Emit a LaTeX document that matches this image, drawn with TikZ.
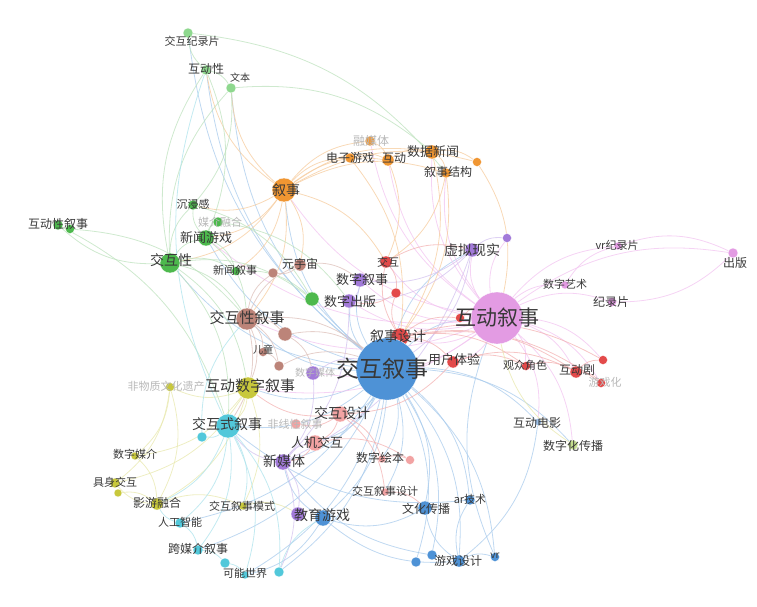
\documentclass[tikz,border=0pt]{standalone}
\usepackage{fontspec}
\setmainfont{Noto Sans CJK SC}
\usetikzlibrary{backgrounds,calc}

\definecolor{cblue}{HTML}{4E92D6}
\definecolor{eblue}{HTML}{A9CBEC}
\definecolor{cpink}{HTML}{E39BE3}
\definecolor{epink}{HTML}{F2C4F0}
\definecolor{corange}{HTML}{F09632}
\definecolor{eorange}{HTML}{F6CC9E}
\definecolor{cgreen}{HTML}{4DB94D}
\definecolor{clgreen}{HTML}{8ED88E}
\definecolor{egreen}{HTML}{BEE2BE}
\definecolor{cbrown}{HTML}{BC8479}
\definecolor{ebrown}{HTML}{DDC0B9}
\definecolor{cpurple}{HTML}{A27AD9}
\definecolor{epurple}{HTML}{D3C2EF}
\definecolor{cred}{HTML}{E34A4A}
\definecolor{ered}{HTML}{F3B2B2}
\definecolor{csalmon}{HTML}{F2A3A3}
\definecolor{cyellow}{HTML}{C8C83C}
\definecolor{eyellow}{HTML}{E8E8AE}
\definecolor{ccyan}{HTML}{52C8DA}
\definecolor{ecyan}{HTML}{AEE3EC}
\definecolor{cblight}{HTML}{9CC0E8}
\definecolor{cygreen}{HTML}{C4DE8E}

\tikzset{
  dot/.style={circle, inner sep=0pt, draw=white, line width=0.3pt},
  lbl/.style={font=\fontsize{#1}{#1}\selectfont, text=black!78, inner sep=0pt},
  faint/.style={font=\fontsize{#1}{#1}\selectfont, text=black!28, inner sep=0pt},
  edge/.style={draw=#1, line width=0.8pt, opacity=0.75},
}

\begin{document}
\begin{tikzpicture}[x=1pt, y=-1pt]
  \useasboundingbox (0,0) rectangle (757,607);

  % keyword nodes
  \foreach \n/\x/\y/\d/\c in {
      jhjlp/188/33/10/clgreen, hdx/206/70/10/clgreen, wb/231/88/10/clgreen,
      rmt/370/141/10/corange, dzyx/350/158/10/corange, hd/388/160/12/corange,
      sjxw/432/152/14/corange, o477/477/162/9/corange, xsjg/446/173/10/corange,
      xs/284/190/24/corange,
      cjg/193/205/10/cgreen, gmf/218/222/10/cgreen, xwyx/206/238/16/cgreen,
      hdxxs/58/225/10/cgreen, hdxxs2/70/229/9/cgreen, jhx/170/263/20/cgreen,
      xwxs/236/271/9/cgreen, g312/312/299/14/cgreen,
      yyz/300/265/12/cbrown, b273/273/273/10/cbrown, jhxxs/247/319/22/cbrown,
      b285/285/334/14/cbrown, et/263/352/9/cbrown, b278/279/366/10/cbrown,
      szxs/360/280/14/cpurple, szcb/349/301/14/cpurple, szmt/313/373/14/cpurple,
      xnxs/472/250/14/cpurple, p507/507/238/9/cpurple,
      jh/386/262/12/cred, r396/396/293/10/cred, xssj/400/337/18/cred,
      yhty/453/362/12/cred, gzjs/526/366/9/cred, hdj/576/372/12/cred,
      r603/603/360/9/cred, yxh/601/383/9/cred, r460/460/318/9/cred,
      vrjlp/618/246/8/cpink, cb/733/253/10/cpink, szys/565/285/8/cpink,
      jlp/612/302/9/cpink,
      fwz/170/387/9/cyellow, hdszxs/248/388/22/cyellow, szmj/135/456/8/cyellow,
      jsjh/115/483/10/cyellow, jsjh2/118/493/8/cyellow, yyrh/157/504/12/cyellow,
      jhxsms/243/506/8/cyellow,
      jhsxs/228/426/24/ccyan, c202/202/437/10/ccyan, rgzn/180/523/10/ccyan,
      kmjxs/198/550/10/ccyan, knsj2/225/563/10/ccyan, knsj/245/575/8/ccyan,
      knsj3/279/572/10/ccyan,
      fxxxs/296/424/10/csalmon, jhsj/340/414/16/csalmon, rjjh/315/443/16/csalmon,
      szhb/382/459/8/csalmon, szhb2/410/460/9/csalmon, jhxssj/385/492/8/csalmon,
      xmt/283/462/16/cpurple, jyyx/298/514/14/cpurple,
      jyyxb/323/518/16/cblue, arjs/470/500/10/cblue, whcb/425/508/14/cblue,
      yxsj/459/561/12/cblue, yxsj2/432/555/10/cblue, yxsj3/416/562/10/cblue,
      vr/495/557/9/cblue, hddy/538/422/7/cblight, szhcb/573/445/10/cygreen,
      hdxsb/497/318/52/cpink, jhxs/387/369/62/cblue}
    \node[dot, minimum size=\d pt, fill=\c] (\n) at (\x,\y) {};

  \begin{scope}[on background layer]
    % 交互叙事
    \foreach \a/\b in {jhxs/xs, jhxs/jhx, jhxs/hdxsb, jhxs/jhxxs, jhxs/xwyx,
        jhxs/hdx, jhxs/jhjlp, jhxs/wb, jhxs/hdszxs, jhxs/jhsxs, jhxs/kmjxs,
        jhxs/knsj, jhxs/rgzn, jhxs/yxsj, jhxs/whcb, jhxs/arjs, jhxs/vr,
        jhxs/jyyxb, jhxs/xmt, jhxs/hddy, jhxs/yxsj2, jhxs/yxsj3, jhxs/szhcb,
        jhxs/xnxs, jhxs/szxs, jhxs/szcb, jhxs/jhsj, jhxs/rjjh, jhxs/szhb,
        jhxs/jhxssj, jhxs/knsj3, jhxs/xssj, yxsj/whcb, yxsj/jyyxb, yxsj/arjs,
        yxsj/vr, whcb/jyyxb, jyyxb/xmt, vr/hdxsb, hddy/yxsj, yxsj2/xmt,
        arjs/jhsxs, jyyxb/knsj}
      \draw[edge=eblue] (\a) to[bend left=22] (\b);
    % 互动叙事
    \foreach \a/\b in {hdxsb/vrjlp, hdxsb/cb, hdxsb/szys, hdxsb/jlp,
        hdxsb/xnxs, hdxsb/hd, hdxsb/sjxw, hdxsb/xsjg, hdxsb/jh, hdxsb/xssj,
        hdxsb/yhty, hdxsb/gzjs, hdxsb/hdj, hdxsb/yxh, hdxsb/szxs, hdxsb/szcb,
        hdxsb/jhxxs, hdxsb/hdszxs, hdxsb/xs, hdxsb/rmt, hdxsb/r603,
        hdxsb/p507, hdxsb/hddy, hdxsb/szhcb, vrjlp/cb, szys/vrjlp,
        hdxsb/szmt, hdxsb/xwyx, cb/jlp}
      \draw[edge=epink] (\a) to[bend left=22] (\b);
    % 叙事
    \foreach \a/\b in {xs/dzyx, xs/hd, xs/rmt, xs/sjxw, xs/xsjg, xs/jhx,
        xs/xwyx, xs/cjg, xs/wb, xs/hdx, xs/yyz, xs/jhxxs, xs/xwxs, xs/o477,
        dzyx/hd, hd/sjxw, sjxw/xsjg, sjxw/o477, sjxw/xssj, xsjg/xssj,
        xsjg/jh, hd/jh, dzyx/xssj, xs/jh, rmt/hd, o477/hdxsb}
      \draw[edge=eorange] (\a) to[bend left=22] (\b);
    % 交互性
    \foreach \a/\b in {jhx/hdxxs, jhx/cjg, jhx/xwyx, jhx/xwxs, jhx/jhxxs,
        jhx/hdx, jhx/wb, jhx/g312, jhx/jhsxs, jhx/hdszxs, xwyx/xwxs,
        xwyx/cjg, xwyx/gmf, xwyx/jhxxs, hdx/jhjlp, hdx/wb, hdx/xwyx,
        wb/cjg, hdxxs/jhsxs, hdxxs2/jhxxs, cjg/g312, gmf/szcb, xwxs/g312,
        wb/sjxw, jhjlp/xsjg}
      \draw[edge=egreen] (\a) to[bend left=22] (\b);
    % 交互性叙事
    \foreach \a/\b in {jhxxs/yyz, jhxxs/b273, jhxxs/b285, jhxxs/et,
        jhxxs/b278, jhxxs/hdszxs, jhxxs/jhsxs, yyz/b273, yyz/szxs,
        b285/szmt, et/b278, b278/jhxs, b285/jhxs, jhxxs/jhxs}
      \draw[edge=ebrown] (\a) to[bend left=22] (\b);
    % 虚拟现实, 新媒体
    \foreach \a/\b in {xnxs/szxs, xnxs/szcb, xnxs/p507, xnxs/xmt, szxs/szcb,
        szcb/xmt, xmt/jyyx, xmt/rjjh, szmt/xmt, szmt/jhxs, xnxs/jhxs,
        xmt/jhsxs, xmt/knsj3}
      \draw[edge=epurple] (\a) to[bend left=22] (\b);
    % 叙事设计, 交互设计
    \foreach \a/\b in {xssj/jh, xssj/r396, xssj/yhty, xssj/gzjs, xssj/hdj,
        xssj/r603, xssj/yxh, xssj/r460, jh/r396, yhty/gzjs, gzjs/hdj,
        hdj/r603, hdj/yxh, yhty/hdj, r460/hdxsb, jh/xnxs, r396/szcb,
        yhty/jhsj, jhsj/rjjh, jhsj/szhb, jhsj/jhxssj, jhsj/fxxxs,
        rjjh/szhb2, szhb/szhb2, jhxssj/whcb, rjjh/xmt, jhsj/hdszxs}
      \draw[edge=ered] (\a) to[bend left=22] (\b);
    % 互动数字叙事
    \foreach \a/\b in {hdszxs/fwz, hdszxs/szmj, hdszxs/jsjh, hdszxs/yyrh,
        hdszxs/jhxsms, fwz/jsjh, fwz/szmj, yyrh/jsjh, szmj/yyrh,
        jsjh2/yyrh, fwz/yyrh, hdszxs/jhsxs, yyrh/jhxsms, jhxsms/jyyx,
        szhcb/hdxsb}
      \draw[edge=eyellow] (\a) to[bend left=22] (\b);
    % 交互式叙事
    \foreach \a/\b in {jhsxs/rgzn, jhsxs/kmjxs, jhsxs/knsj, jhsxs/c202,
        jhsxs/yyrh, jhsxs/jhxsms, jhsxs/knsj3, rgzn/kmjxs, kmjxs/knsj2,
        knsj2/knsj, knsj3/jyyxb, rgzn/yyrh, c202/jhxxs, jhsxs/hdx}
      \draw[edge=ecyan] (\a) to[bend left=22] (\b);
  \end{scope}

  % labels
  \foreach \n/\t/\s/\dx/\dy in {
      jhjlp/交互纪录片/11/4/8, hdx/互动性/12/0/-1, wb/文本/10/9/-10,
      dzyx/电子游戏/12/0/0, hd/互动/12/6/-2, sjxw/数据新闻/13/1/0,
      xsjg/叙事结构/12/2/-1, xs/叙事/14/2/0, cjg/沉浸感/11/0/-1,
      xwyx/新闻游戏/13/0/0, hdxxs/互动性叙事/12/0/-1, jhx/交互性/14/1/-3,
      xwxs/新闻叙事/11/-1/-1, yyz/元宇宙/12/0/-1, szxs/数字叙事/13/2/0,
      szcb/数字出版/13/1/1, jhxxs/交互性叙事/15/0/-1, et/儿童/10/0/-2,
      jhxs/交互叙事/23/-5/0, hdxsb/互动叙事/21/0/0, jh/交互/11/2/0,
      xssj/叙事设计/14/-2/-1, yhty/用户体验/13/1/-2, gzjs/观众角色/11/-1/-1,
      hdj/互动剧/12/1/-2, xnxs/虚拟现实/14/0/0, vrjlp/vr纪录片/11/-1/-1,
      cb/出版/12/2/10, szys/数字艺术/11/0/-1, jlp/纪录片/12/-1/0,
      hdszxs/互动数字叙事/15/2/-2, jhsxs/交互式叙事/14/-1/-2,
      jhsj/交互设计/14/2/-1, rjjh/人机交互/13/2/0, xmt/新媒体/14/1/-1,
      szhb/数字绘本/12/-2/-1, jhxssj/交互叙事设计/11/0/-1, arjs/ar技术/11/0/-1,
      whcb/文化传播/12/1/1, szmj/数字媒介/11/0/-2, jsjh/具身交互/11/0/-1,
      yyrh/影游融合/12/0/-1, rgzn/人工智能/11/0/-1, jhxsms/交互叙事模式/11/-1/0,
      jyyxb/教育游戏/14/-1/-3, kmjxs/跨媒介叙事/12/0/-1, knsj/可能世界/11/0/-2,
      yxsj/游戏设计/12/-1/0, vr/vr/10/0/-1, hddy/互动电影/12/-1/1,
      szhcb/数字化传播/12/0/1}
    \node[lbl=\s] at ($(\n)+(\dx,\dy)$) {\t};
  \foreach \n/\t/\s/\dx/\dy in {
      rmt/融媒体/12/1/0, gmf/媒介融合/11/2/0, szmt/数字媒体/10/2/0,
      fwz/非物质文化遗产/11/-4/-1, fxxxs/非线性叙事/11/-1/0, yxh/游戏化/11/4/-1}
    \node[faint=\s] at ($(\n)+(\dx,\dy)$) {\t};
\end{tikzpicture}
\end{document}
